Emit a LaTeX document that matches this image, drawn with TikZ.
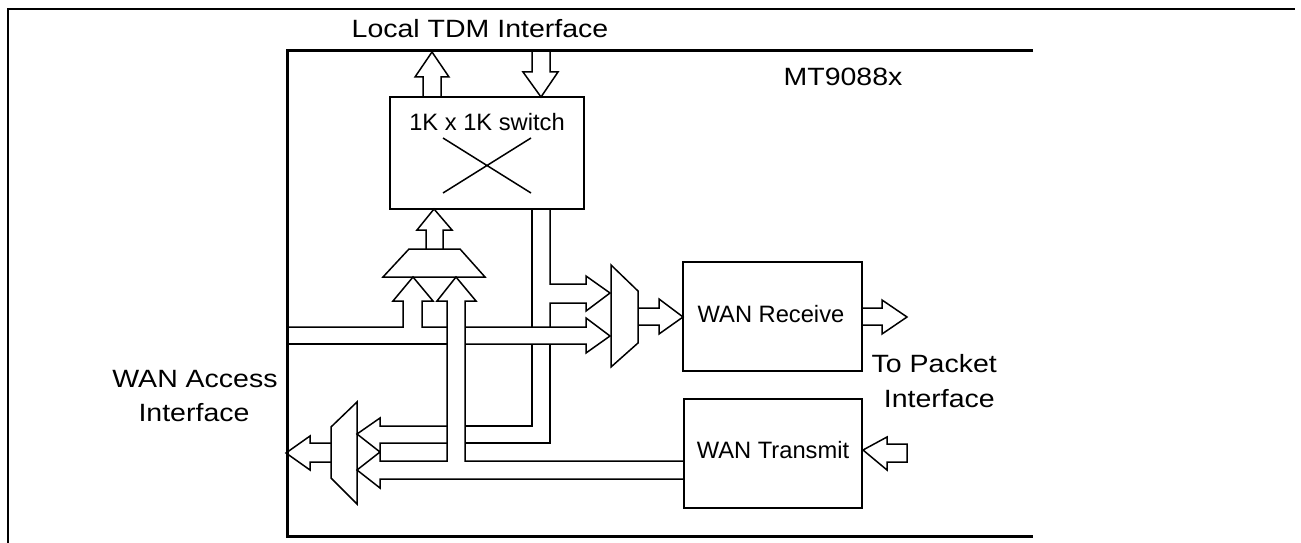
\documentclass[tikz,border=0pt]{standalone}
\usepackage{fontspec}
\setmainfont{Liberation Sans}
\begin{document}
\begin{tikzpicture}[x=1pt,y=-1pt,
  wire/.style={line width=1.5pt, line join=miter, miter limit=10},
  blk/.style={draw, line width=1.5pt, inner sep=0pt},
  innerlbl/.style={font=\fontsize{23.7}{28}\selectfont, anchor=base, inner sep=0pt},
  outerlbl/.style={font=\fontsize{25}{30}\selectfont, inner sep=0pt}]
\newcommand{\wide}[1]{\scalebox{1.14}[1]{#1}}

\useasboundingbox (0,0) rectangle (1301,543);

% frames
\draw[line width=2.2pt] (8,543) -- (8,9) -- (1295,9);
\draw[line width=3pt, line join=miter] (1033,51) -- (287,51) -- (287,536) -- (1033,536);

% labels outside
\node[outerlbl, anchor=base] (ltdm) at (480,38) {\wide{Local TDM Interface}};
\node[outerlbl, anchor=base] (chip) at (843,85) {\wide{MT9088x}};
\node[outerlbl, anchor=base] (wan1) at (195,387) {\wide{WAN Access}};
\node[outerlbl, anchor=base] (wan2) at (194,421.5) {\wide{Interface}};
\node[outerlbl, anchor=base east] (pk1) at (997,372) {\wide{To Packet}};
\node[outerlbl, anchor=base east] (pk2) at (995,407) {\wide{Interface}};

% blocks
\node[blk, minimum width=194pt, minimum height=112pt] (sw) at (487,153) {};
\node[innerlbl] (swl) at (487,130) {1K x 1K switch};
\draw[wire] (443,138) -- (531,193) (443,193) -- (531,138);

\node[blk, minimum width=179pt, minimum height=109pt] (rx) at (772.5,316.5) {};
\node[innerlbl] (rxl) at (771,322) {WAN Receive};

\node[blk, minimum width=178pt, minimum height=109pt] (tx) at (773,453.5) {};
\node[innerlbl] (txl) at (773,458) {WAN Transmit};

% muxes
\draw[wire] (409,249) -- (460,249) -- (485,277) -- (383,277) -- cycle;
\draw[wire] (611,265) -- (638,291) -- (638,343) -- (611,367) -- cycle;
\draw[wire] (357,402) -- (357,504) -- (331,478) -- (331,427) -- cycle;

% switch top arrows
\draw[wire] (423,97) -- (423,77) -- (415,77) -- (432,52) -- (449,77) -- (441,77) -- (441,97);
\draw[wire] (532,51) -- (532,72) -- (523,72) -- (541,97) -- (558,72) -- (550,72) -- (550,51);
% mux to switch
\draw[wire] (426,249) -- (426,230) -- (417,230) -- (434,209) -- (452,230) -- (443,230) -- (443,249);

% receive mux out, WAN receive out
\draw[wire] (638,308) -- (659,308) -- (659,299) -- (683,317) -- (659,334) -- (659,325) -- (638,325);
\draw[wire] (862,308) -- (882,308) -- (882,300) -- (907,317) -- (882,334) -- (882,325) -- (862,325);
% into WAN transmit
\draw[wire] (863,450) -- (887,437) -- (887,444) -- (907,444) -- (907,462) -- (887,462) -- (887,470) -- cycle;
% transmit mux out
\draw[wire] (331,443) -- (310,443) -- (310,436) -- (286,453) -- (310,470) -- (310,462) -- (331,462);

% WAN access input bus
\draw[wire] (287,327) -- (403,327) -- (403,301) -- (393,301) -- (413,277) -- (433,301) -- (422,301) -- (422,327) -- (447,327);
\draw[wire] (465,327) -- (586,327) -- (586,318) -- (610,336) -- (586,353) -- (586,344) -- (465,344);
\draw[wire] (447,344) -- (287,344);

% WAN transmit bus (up to mux and to transmit mux)
\draw[wire] (684,461) -- (465,461) -- (465,301) -- (476,301) -- (456,277) -- (437,301) -- (447,301) -- (447,461) -- (380,461) -- (380,452) -- (357,470) -- (380,488) -- (380,479) -- (684,479);

% switch output bus
\draw[wire] (532,209) -- (532,327);
\draw[wire] (532,344) -- (532,426) -- (465,426);
\draw[wire] (447,426) -- (380,426) -- (380,418) -- (357,434) -- (380,452) -- (380,443) -- (447,443);
\draw[wire] (465,443) -- (550,443) -- (550,344);
\draw[wire] (550,327) -- (550,303) -- (586,303) -- (586,311) -- (610,293) -- (586,276) -- (586,284) -- (550,284) -- (550,209);
\end{tikzpicture}
\end{document}
